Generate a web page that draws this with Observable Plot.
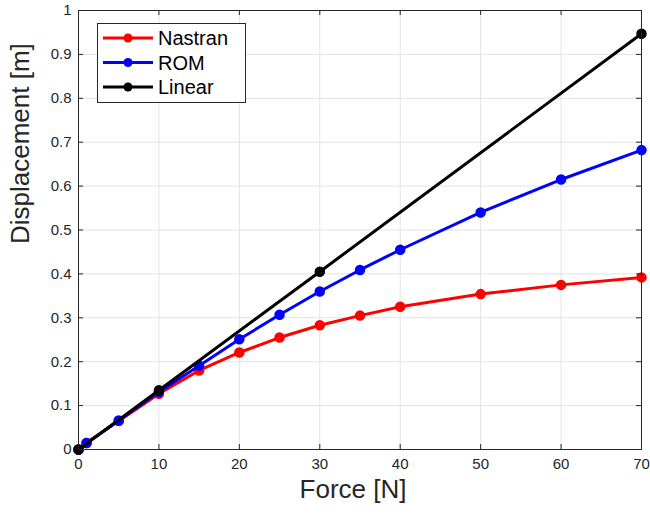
<!DOCTYPE html>
<html><head><meta charset="utf-8">
<script src="https://cdn.jsdelivr.net/npm/d3@7"></script>
<script src="https://cdn.jsdelivr.net/npm/@observablehq/plot@0.6"></script>
<style>
body{margin:0;background:#fff;font-family:"Liberation Sans",Arial,sans-serif;}
#wrap{position:relative;width:650px;height:514px;}
#legend{position:absolute;left:97px;top:23px;width:149px;height:80px;background:#fff;border:1px solid #262626;box-sizing:border-box;}
</style></head>
<body><div id="wrap"><div id="legend"></div></div>
<script>
const nastranF = [0,1,5,10,15,20,25,30,35,40,50,60,70];
const nastranD = [0,0.015,0.065,0.127,0.180,0.221,0.255,0.283,0.305,0.325,0.354,0.375,0.392];
const romF = [0,1,5,10,15,20,25,30,35,40,50,60,70];
const romD = [0,0.015,0.066,0.131,0.191,0.251,0.307,0.360,0.409,0.455,0.540,0.615,0.682];
const linearF = [0,10,30,70];
const linearD = [0,0.135,0.405,0.947];
const seriesNames = ["Nastran","ROM","Linear"];
const seriesColors = ["#ff0000","#0000ff","#000000"];
const xTicks = [0,10,20,30,40,50,60,70];
const yTicks = [0,0.1,0.2,0.3,0.4,0.5,0.6,0.7,0.8,0.9,1];

const rows = [];
[[nastranF,nastranD],[romF,romD],[linearF,linearD]].forEach(([f,d],i)=>{
  f.forEach((v,j)=>rows.push({series:seriesNames[i],force:v,disp:d[j]}));
});

const W=650,H=514,mt=10,mb=65,ml=78,mr=9;
const ph=H-mt-mb, pw=W-ml-mr;
const axisColor="#262626";
const marks=[
  Plot.ruleX(xTicks,{stroke:"#e3e3e3",strokeWidth:1}),
  Plot.ruleY(yTicks,{stroke:"#e3e3e3",strokeWidth:1}),
];
seriesNames.forEach((s,i)=>{
  const data=rows.filter(r=>r.series===s);
  marks.push(Plot.line(data,{x:"force",y:"disp",stroke:seriesColors[i],strokeWidth:3}));
  marks.push(Plot.dot(data,{x:"force",y:"disp",fill:seriesColors[i],stroke:seriesColors[i],r:4.5}));
});
marks.push(
  Plot.ruleX(xTicks,{stroke:axisColor,insetTop:ph-5}),
  Plot.ruleX(xTicks,{stroke:axisColor,insetBottom:ph-5}),
  Plot.ruleY(yTicks,{stroke:axisColor,insetRight:pw-5}),
  Plot.ruleY(yTicks,{stroke:axisColor,insetLeft:pw-5}),
  Plot.frame({stroke:axisColor,strokeWidth:1}),
  Plot.axisX(xTicks,{tickSize:0,tickPadding:9,fontSize:15,fill:axisColor,label:null}),
  Plot.axisY(yTicks,{tickSize:0,tickPadding:7,fontSize:15,fill:axisColor,label:null,tickFormat:d=>String(+d.toFixed(1))}),
  Plot.text(["Force [N]"],{frameAnchor:"bottom",dx:-7,dy:48,fontSize:26,fill:axisColor}),
  Plot.text(["Displacement [m]"],{frameAnchor:"left",dx:-58,dy:14,rotate:-90,fontSize:26,fill:axisColor})
);

const chart=Plot.plot({
  width:W,height:H,marginTop:mt,marginBottom:mb,marginLeft:ml,marginRight:mr,
  style:{fontFamily:"Liberation Sans, Arial, sans-serif",background:"#fff",overflow:"visible"},
  x:{domain:[0,70]},
  y:{domain:[0,1]},
  marks
});
document.getElementById("wrap").prepend(chart);

// legend
const ns="http://www.w3.org/2000/svg";
const lsvg=document.createElementNS(ns,"svg");
lsvg.setAttribute("width",147);lsvg.setAttribute("height",78);
seriesNames.forEach((s,i)=>{
  const y=14+i*24.5;
  const l=document.createElementNS(ns,"line");
  l.setAttribute("x1",5);l.setAttribute("x2",55);l.setAttribute("y1",y);l.setAttribute("y2",y);
  l.setAttribute("stroke",seriesColors[i]);l.setAttribute("stroke-width",3);
  lsvg.appendChild(l);
  const c=document.createElementNS(ns,"circle");
  c.setAttribute("cx",30);c.setAttribute("cy",y);c.setAttribute("r",4.5);c.setAttribute("fill",seriesColors[i]);
  lsvg.appendChild(c);
  const t=document.createElementNS(ns,"text");
  t.setAttribute("x",60);t.setAttribute("y",y);t.setAttribute("dy","0.35em");
  t.setAttribute("font-size",20);t.setAttribute("fill","#000");
  t.setAttribute("font-family","Liberation Sans, Arial, sans-serif");
  t.textContent=s;lsvg.appendChild(t);
});
document.getElementById("legend").appendChild(lsvg);
</script></body></html>
